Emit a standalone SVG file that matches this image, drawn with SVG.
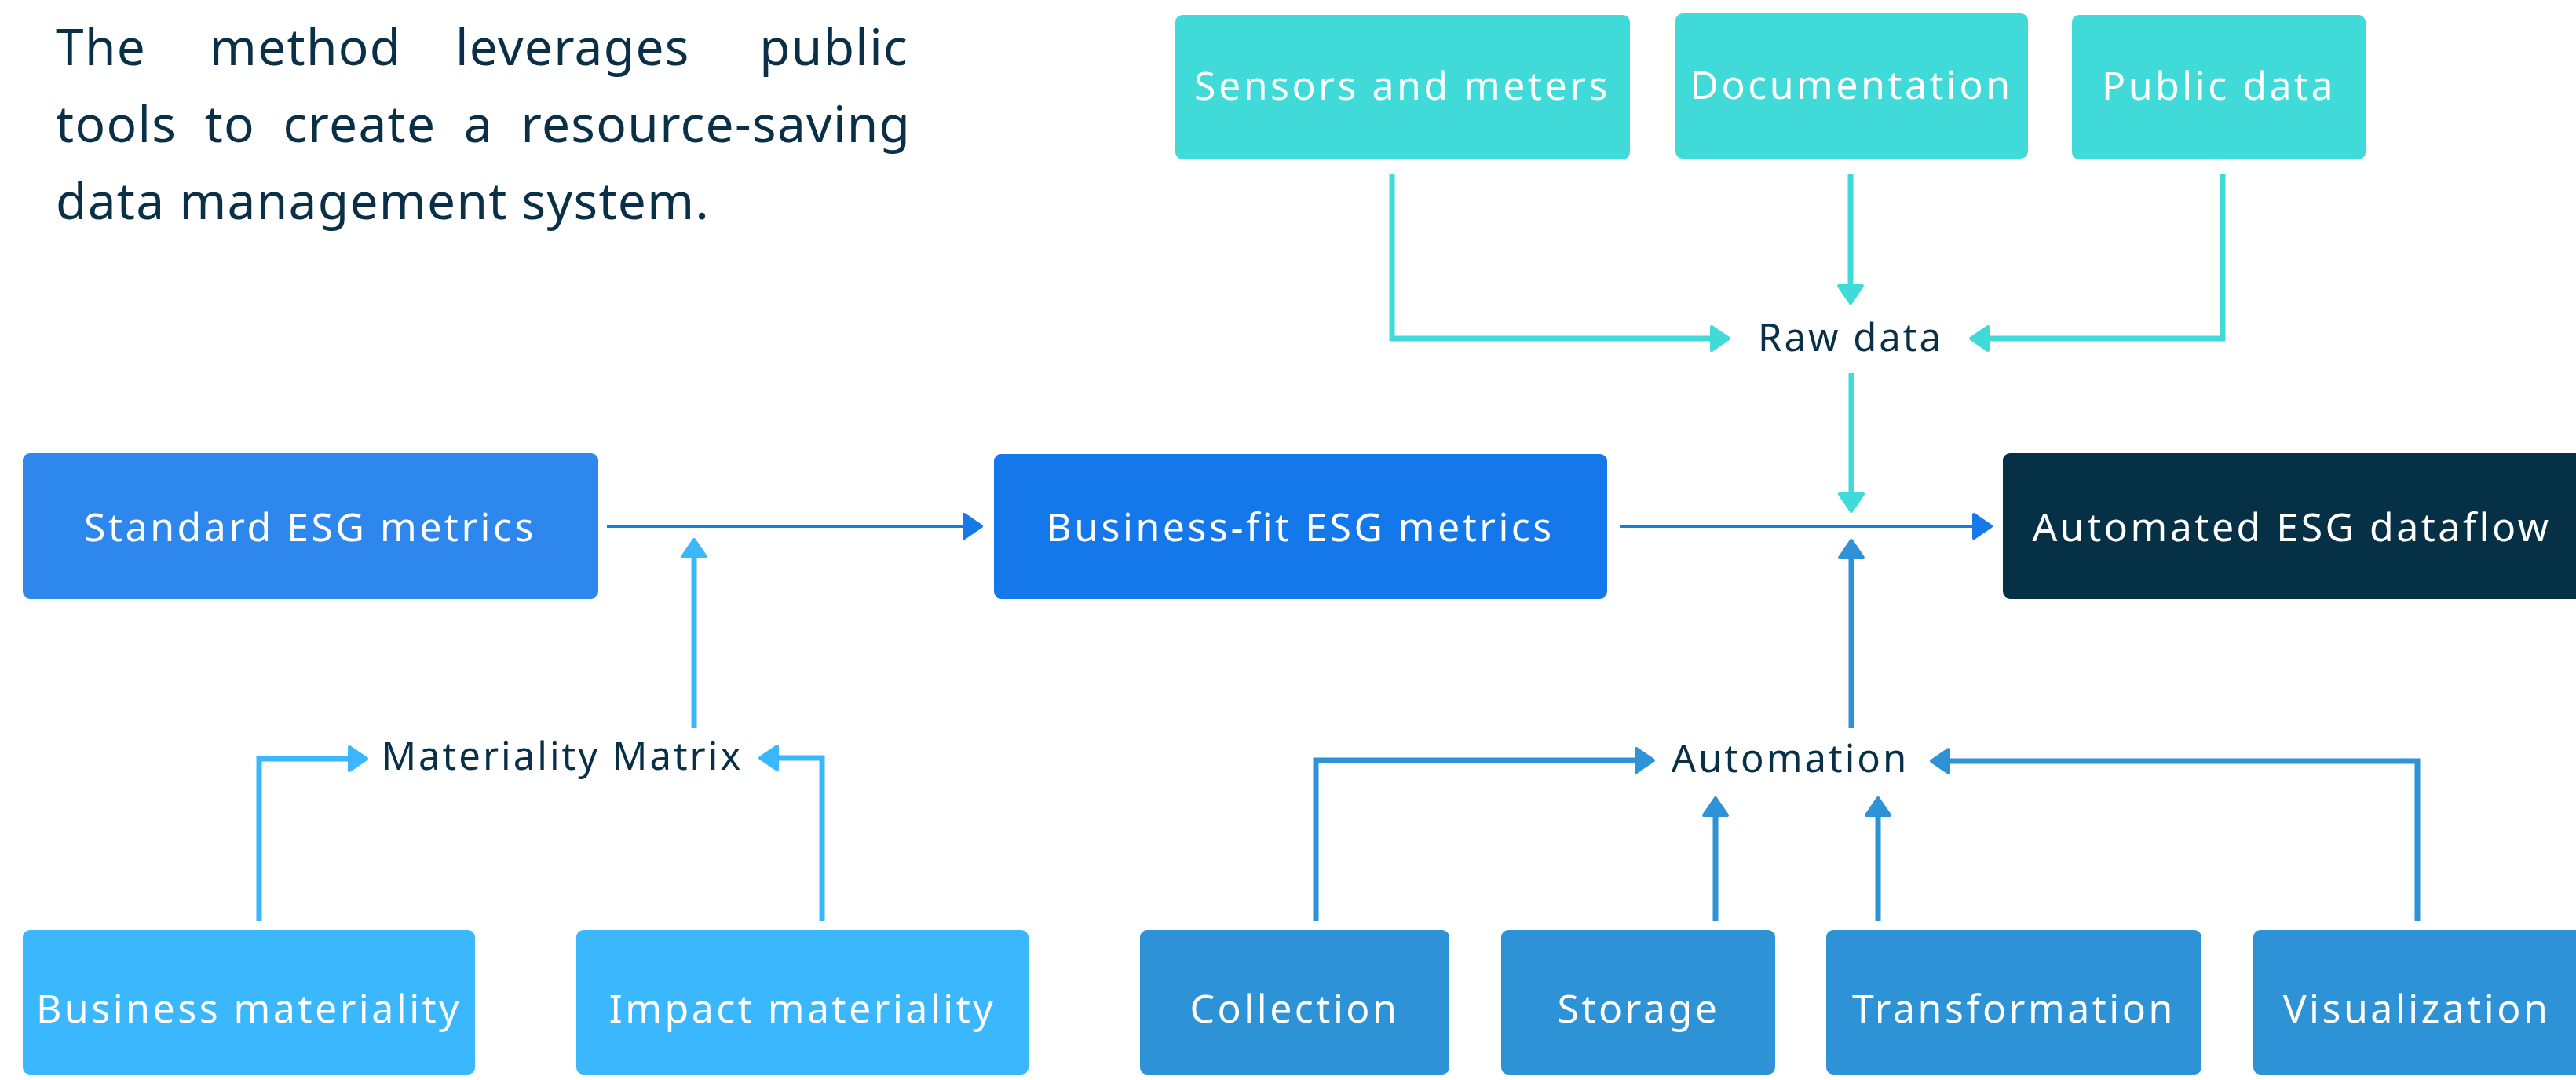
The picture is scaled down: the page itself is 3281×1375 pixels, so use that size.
<svg xmlns="http://www.w3.org/2000/svg" width="3281" height="1375" viewBox="0 0 3281 1375">
<style>
.t{font-family:"Noto Sans","Open Sans","DejaVu Sans",sans-serif;}
.title{font-size:64px;fill:#0A3048;letter-spacing:1.3px;}
.lbl{font-size:50px;fill:#ffffff;letter-spacing:3.5px;text-anchor:middle;}
.free{font-size:49px;fill:#0A3048;letter-spacing:3px;text-anchor:middle;}
.c{fill:none;stroke-linejoin:miter;}
.cy{stroke:#40DBD8;stroke-width:7;}
.mb{stroke:#1778E8;stroke-width:4;}
.lb{stroke:#3BB7FD;stroke-width:7;}
.ab{stroke:#2E92D6;stroke-width:7;}
</style>
<defs>
<marker id="mcy" markerUnits="userSpaceOnUse" markerWidth="40" markerHeight="40" refX="2" refY="17" orient="auto" overflow="visible"><path d="M2,2 L24,17 L2,32 Z" fill="#40DBD8" stroke="#40DBD8" stroke-width="4" stroke-linejoin="round"/></marker>
<marker id="mmb" markerUnits="userSpaceOnUse" markerWidth="40" markerHeight="40" refX="2" refY="17" orient="auto" overflow="visible"><path d="M2,2 L24,17 L2,32 Z" fill="#1778E8" stroke="#1778E8" stroke-width="4" stroke-linejoin="round"/></marker>
<marker id="mlb" markerUnits="userSpaceOnUse" markerWidth="40" markerHeight="40" refX="2" refY="17" orient="auto" overflow="visible"><path d="M2,2 L24,17 L2,32 Z" fill="#3BB7FD" stroke="#3BB7FD" stroke-width="4" stroke-linejoin="round"/></marker>
<marker id="mab" markerUnits="userSpaceOnUse" markerWidth="40" markerHeight="40" refX="2" refY="17" orient="auto" overflow="visible"><path d="M2,2 L24,17 L2,32 Z" fill="#2E92D6" stroke="#2E92D6" stroke-width="4" stroke-linejoin="round"/></marker>
</defs>
<rect width="3281" height="1375" fill="#ffffff"/>
<g id="intro" class="t title">
<text x="71" y="83">The</text>
<text x="267" y="83">method</text>
<text x="580" y="83">leverages</text>
<text x="1157" y="83" text-anchor="end">public</text>
<text x="71" y="181" word-spacing="17.5">tools to create a resource-saving</text>
<text x="71" y="279">data management system.</text>
</g>
<g id="connectors">
<path class="c cy" d="M1773,222 V431 H2180" marker-end="url(#mcy)"/>
<path class="c cy" d="M2357,222 V364" marker-end="url(#mcy)"/>
<path class="c cy" d="M2831,222 V431 H2532" marker-end="url(#mcy)"/>
<path class="c cy" d="M2358,475 V629" marker-end="url(#mcy)"/>
<path class="c ab" d="M2358,927 V710" marker-end="url(#mab)"/>
<path class="c mb" d="M773,670 H1228" marker-end="url(#mmb)"/>
<path class="c mb" d="M2063,670 H2514" marker-end="url(#mmb)"/>
<path class="c lb" d="M884,927 V709" marker-end="url(#mlb)"/>
<path class="c lb" d="M330,1172 V966 H445" marker-end="url(#mlb)"/>
<path class="c lb" d="M1047,1172 V965 H990" marker-end="url(#mlb)"/>
<path class="c ab" d="M1676,1172 V968 H2084" marker-end="url(#mab)"/>
<path class="c ab" d="M2185,1172 V1038" marker-end="url(#mab)"/>
<path class="c ab" d="M2392,1172 V1038" marker-end="url(#mab)"/>
<path class="c ab" d="M3079,1172 V969 H2482" marker-end="url(#mab)"/>
</g>
<g id="sensors"><rect x="1497" y="19" width="579" height="184" rx="9" fill="#40DBD8"/><text class="t lbl" x="1786" y="127">Sensors and meters</text></g>
<g id="documentation"><rect x="2134" y="17" width="449" height="185" rx="9" fill="#40DBD8"/><text class="t lbl" x="2358" y="126">Documentation</text></g>
<g id="public-data"><rect x="2639" y="19" width="374" height="184" rx="9" fill="#40DBD8"/><text class="t lbl" x="2826" y="127">Public data</text></g>
<g id="raw-data"><text class="t free" x="2357" y="447">Raw data</text></g>
<g id="standard-esg"><rect x="29" y="577" width="733" height="185" rx="9" fill="#2E87EC"/><text class="t lbl" x="395" y="689">Standard ESG metrics</text></g>
<g id="business-fit"><rect x="1266" y="578" width="781" height="184" rx="9" fill="#1578EA"/><text class="t lbl" x="1656" y="689">Business-fit ESG metrics</text></g>
<g id="automated"><rect x="2551" y="577" width="740" height="185" rx="9" fill="#063045"/><text class="t lbl" x="2919" y="689">Automated ESG dataflow</text></g>
<g id="materiality-matrix"><text class="t free" x="716" y="980">Materiality Matrix</text></g>
<g id="automation"><text class="t free" x="2280" y="983">Automation</text></g>
<g id="business-materiality"><rect x="29" y="1184" width="576" height="184" rx="9" fill="#3BB7FD"/><text class="t lbl" x="317" y="1302" letter-spacing="3">Business materiality</text></g>
<g id="impact-materiality"><rect x="734" y="1184" width="576" height="184" rx="9" fill="#3BB7FD"/><text class="t lbl" x="1022" y="1302">Impact materiality</text></g>
<g id="collection"><rect x="1452" y="1184" width="394" height="184" rx="9" fill="#2E92D6"/><text class="t lbl" x="1649" y="1302">Collection</text></g>
<g id="storage"><rect x="1912" y="1184" width="349" height="184" rx="9" fill="#2E92D6"/><text class="t lbl" x="2087" y="1302">Storage</text></g>
<g id="transformation"><rect x="2326" y="1184" width="478" height="184" rx="9" fill="#2E92D6"/><text class="t lbl" x="2565" y="1302">Transformation</text></g>
<g id="visualization"><rect x="2870" y="1184" width="420" height="184" rx="9" fill="#2E92D6"/><text class="t lbl" x="3078" y="1302">Visualization</text></g>
</svg>
